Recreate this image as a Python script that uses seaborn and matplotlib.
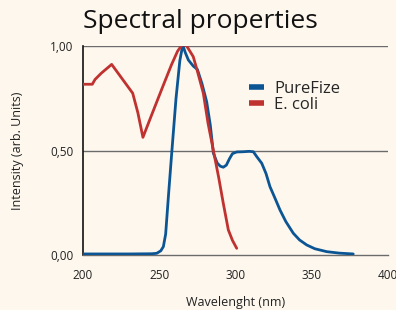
import matplotlib
matplotlib.use("Agg")
import matplotlib.pyplot as plt
import seaborn as sns
import pandas as pd
from matplotlib.ticker import FuncFormatter

purefize_x = [200, 230, 245, 248.3, 251, 252.7, 254.2, 256, 258.2, 261, 263.5, 265.4, 267, 269.1, 272.3, 275, 278, 281.1, 283.5, 285.5, 288, 290, 292, 294, 296, 298, 300.8, 305, 309, 311.7, 314, 317.2, 320, 322.6, 326, 329.2, 333, 337.9, 342, 346.7, 352, 359.8, 368, 377.2]
purefize_y = [0.005, 0.005, 0.006, 0.008, 0.02, 0.04, 0.1, 0.28, 0.49, 0.75, 0.93, 1.005, 0.97, 0.933, 0.904, 0.888, 0.82, 0.733, 0.62, 0.487, 0.44, 0.425, 0.42, 0.43, 0.46, 0.485, 0.493, 0.494, 0.496, 0.494, 0.47, 0.439, 0.39, 0.327, 0.27, 0.215, 0.16, 0.104, 0.072, 0.048, 0.03, 0.016, 0.009, 0.005]

ecoli_x = [200, 206.1, 207.9, 212, 218.8, 225, 232.6, 236, 239.3, 245, 252, 258, 262, 265.4, 268, 272.3, 275, 278.9, 282, 285.5, 289, 292, 295.3, 298, 300.8]
ecoli_y = [0.817, 0.817, 0.84, 0.87, 0.912, 0.85, 0.774, 0.68, 0.563, 0.67, 0.8, 0.91, 0.975, 1.01, 1.0, 0.949, 0.88, 0.774, 0.63, 0.5, 0.37, 0.247, 0.12, 0.07, 0.032]

series_names = ["PureFize", "E. coli"]
colors = ["#0c5594", "#c0322f"]
x_ticks = [200, 250, 300, 350, 400]
y_ticks = [0.0, 0.5, 1.0]

df = pd.concat([
    pd.DataFrame({"Wavelength": purefize_x, "Intensity": purefize_y, "Series": series_names[0]}),
    pd.DataFrame({"Wavelength": ecoli_x, "Intensity": ecoli_y, "Series": series_names[1]}),
])

bg = "#fdf7ee"
sns.set_theme(style="white")
plt.rcParams["font.family"] = ["Open Sans", "DejaVu Sans"]

fig = plt.figure(figsize=(3.96, 3.10), dpi=100, facecolor=bg)
ax = fig.add_axes([83/396, 1 - 255/310, (388-83)/396, (255-46)/310])
ax.set_facecolor(bg)

for yv in y_ticks[1:]:
    ax.axhline(yv, color="#6b6b6b", lw=1.0, zorder=1)

sns.lineplot(data=df, x="Wavelength", y="Intensity", hue="Series", palette=colors,
             hue_order=series_names, sort=False, estimator=None, lw=2.0, ax=ax, zorder=3)

ax.set_xlim(200, 400)
ax.set_ylim(0, 1.0)
ax.set_xticks(x_ticks)
ax.set_yticks(y_ticks)
ax.yaxis.set_major_formatter(FuncFormatter(lambda v, p: f"{v:.2f}".replace(".", ",")))
ax.tick_params(axis="both", labelsize=8.5, colors="#222222", length=4, width=1, direction="out")
ax.tick_params(axis="y", pad=3)
ax.tick_params(axis="x", pad=6)
for s in ["top", "right"]:
    ax.spines[s].set_visible(False)
ax.spines["left"].set_color("#111111")
ax.spines["left"].set_linewidth(1.2)
ax.spines["bottom"].set_color("#6b6b6b")
ax.spines["bottom"].set_linewidth(1.0)

ax.set_xlabel("Wavelenght (nm)", fontsize=9, color="#222222", labelpad=10)
ax.set_ylabel("Intensity (arb. Units)", fontsize=9, color="#222222", labelpad=19)

leg = ax.legend(loc="upper left", bbox_to_anchor=(0.523, 0.865), frameon=False, fontsize=12,
                handlelength=0.9, handletextpad=0.6, labelspacing=0.0, borderaxespad=0)
for h in leg.get_lines():
    h.set_linewidth(4)
    h.set_solid_capstyle("butt")

fig.text(83/396, 1 - 22/310, "Spectral properties", fontsize=19, color="#111111",
         ha="left", va="center")

fig.savefig("out.png", dpi=100, facecolor=bg)
